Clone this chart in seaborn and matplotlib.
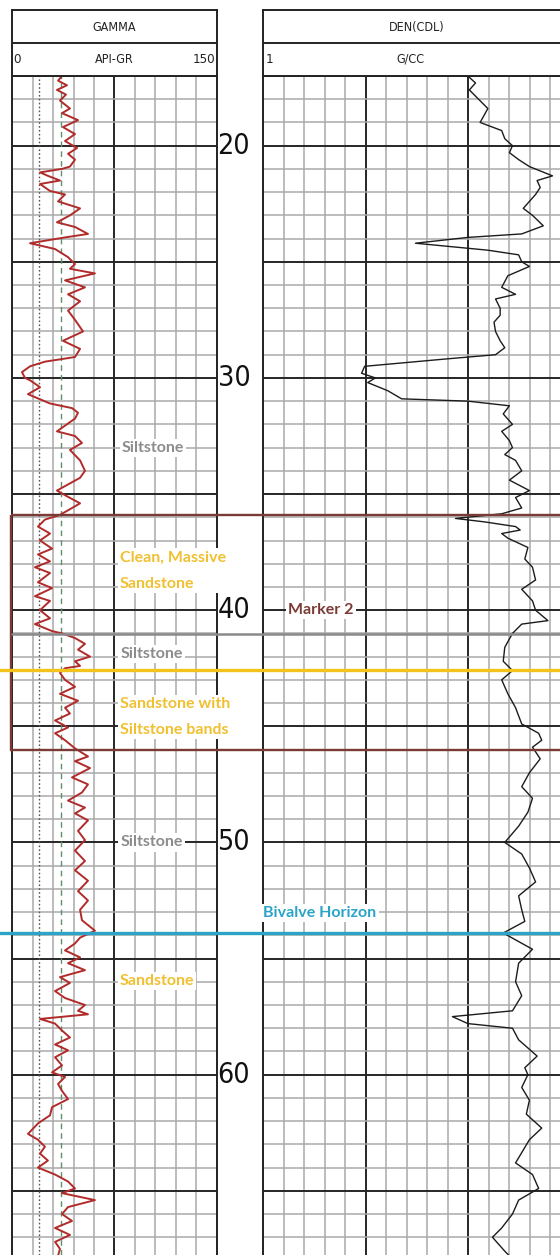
#Well log panel: gamma + density with zone markers
import numpy as np
import matplotlib
matplotlib.use("Agg")
import matplotlib.pyplot as plt
import matplotlib.transforms as mtransforms
from matplotlib.lines import Line2D
from matplotlib.patches import Rectangle
from matplotlib import font_manager
import seaborn as sns

#Gamma ray curve (depth, API)
gr_depth = [17.0, 17.2, 17.4, 17.6, 17.8, 18.06, 18.4, 18.6, 18.9, 19.2, 19.5, 19.8,
            20.1, 20.35, 20.6, 20.9, 21.0, 21.15, 21.3, 21.5, 21.65, 21.95, 22.1, 22.4,
            22.7, 23.0, 23.3, 23.5, 23.8, 23.95, 24.2, 24.45, 24.8, 25.1, 25.3, 25.5,
            25.8, 26.1, 26.4, 26.7, 27.1, 27.5, 28.0, 28.4, 28.75, 29.1, 29.3, 29.5,
            29.75, 30.0, 30.1, 30.4, 30.7, 31.1, 31.3, 31.5, 31.75, 32.3, 32.5, 32.8,
            33.1, 33.55, 34.0, 34.3, 34.85, 35.05, 35.4, 35.7, 35.9, 36.1, 36.4, 36.7,
            37.0, 37.35, 37.6, 37.9, 38.15, 38.4, 38.8, 39.05, 39.4, 39.6, 40.0, 40.35,
            40.6, 40.9, 41.0, 41.2, 41.45, 41.7, 42.0, 42.2, 42.4, 42.5, 42.7, 43.0,
            43.3, 43.6, 43.9, 44.2, 44.45, 44.75, 45.05, 45.3, 45.6, 45.95, 46.3, 46.5,
            46.8, 47.2, 47.5, 47.85, 48.2, 48.5, 48.75, 49.05, 49.5, 49.9, 50.35, 50.8,
            51.2, 51.65, 52.1, 52.5, 52.9, 53.35, 53.8, 54.1, 54.35, 54.65, 54.95, 55.2,
            55.5, 55.8, 56.05, 56.4, 56.7, 57.0, 57.25, 57.4, 57.6, 57.8, 58.1, 58.4,
            58.7, 58.95, 59.25, 59.6, 59.9, 60.1, 60.4, 60.7, 61.05, 61.4, 61.75, 62.1,
            62.55, 62.8, 63.1, 63.4, 63.7, 64.0, 64.3, 64.6, 64.9, 65.1, 65.4, 65.7,
            66.0, 66.3, 66.6, 66.9, 67.2, 67.5, 67.8]
gr_api = [36.6, 33.7, 40.2, 32.9, 39.5, 35.1, 42.4, 36.6, 48.3, 37.3, 46.1, 38.8,
          47.6, 41.0, 46.1, 42.4, 36.6, 20.5, 26.3, 35.1, 20.5, 27.8, 38.8, 33.7,
          49.8, 42.4, 32.9, 46.1, 55.6, 38.8, 13.2, 31.5, 41.0, 46.1, 42.4, 60.7,
          38.8, 53.4, 41.0, 49.8, 41.0, 46.1, 52.0, 37.3, 49.8, 46.1, 24.1, 13.2,
          7.3, 9.5, 13.2, 20.5, 11.7, 27.8, 43.9, 48.3, 46.1, 32.9, 46.1, 51.2,
          42.4, 49.8, 53.4, 49.8, 32.9, 38.8, 49.8, 41.0, 35.1, 24.1, 19.0, 27.8,
          20.5, 29.3, 19.0, 27.8, 16.8, 27.8, 19.0, 29.3, 16.8, 27.8, 20.5, 27.8,
          16.8, 29.3, 36.6, 46.1, 53.4, 48.3, 57.1, 46.1, 49.8, 38.8, 35.1, 38.8,
          46.1, 35.1, 48.3, 38.8, 42.4, 31.5, 41.0, 31.5, 38.8, 46.1, 55.6, 46.1,
          57.1, 43.9, 55.6, 51.2, 41.0, 53.4, 46.1, 55.6, 48.3, 53.4, 46.1, 53.4,
          46.1, 55.6, 48.3, 55.6, 49.8, 51.2, 60.7, 49.8, 46.1, 38.8, 49.8, 41.0,
          53.4, 35.1, 42.4, 31.5, 38.8, 53.4, 48.3, 55.6, 20.5, 31.5, 36.6, 42.4,
          31.5, 41.0, 31.5, 36.6, 29.3, 38.8, 33.7, 36.6, 41.0, 29.3, 27.8, 19.0,
          11.7, 19.0, 24.1, 20.5, 26.3, 19.0, 31.5, 41.0, 46.1, 36.6, 60.7, 41.0,
          36.6, 43.9, 31.5, 42.4, 31.5, 35.1, 33.7]

#Bulk density curve (depth, g/cc)
den_depth = [17.0, 17.3, 17.6, 18.0, 18.4, 19.0, 19.35, 19.7, 20.0, 20.3, 20.6, 20.9,
             21.3, 21.5, 21.8, 22.1, 22.4, 22.7, 23.0, 23.45, 23.8, 23.95, 24.2, 24.5,
             24.7, 25.0, 25.2, 25.6, 26.1, 26.4, 26.6, 27.0, 27.3, 27.6, 28.0, 28.4,
             28.7, 29.0, 29.2, 29.5, 29.8, 30.0, 30.2, 30.55, 30.9, 31.0, 31.2, 31.55,
             32.0, 32.3, 32.7, 33.0, 33.3, 33.55, 34.0, 34.4, 34.85, 35.15, 35.6, 35.85,
             36.05, 36.2, 36.4, 36.55, 36.7, 36.9, 37.3, 37.8, 38.15, 38.7, 39.1, 39.6,
             40.0, 40.45, 40.6, 41.0, 41.6, 42.2, 42.6, 43.0, 43.6, 44.2, 44.9, 45.3,
             45.6, 45.9, 46.4, 47.0, 47.6, 48.1, 48.7, 49.3, 50.0, 50.5, 51.1, 51.7,
             52.3, 52.9, 53.4, 53.9, 54.6, 55.2, 56.0, 56.6, 57.25, 57.5, 57.8, 58.0,
             58.5, 59.2, 59.7, 60.0, 60.55, 61.1, 61.7, 62.3, 62.8, 63.8, 64.3, 64.9,
             65.4, 66.0, 66.6, 67.0, 67.6, 67.8]
den_gcc = [2.33, 2.38, 2.34, 2.40, 2.46, 2.41, 2.55, 2.57, 2.62, 2.60, 2.66, 2.73,
           2.88, 2.78, 2.80, 2.77, 2.73, 2.69, 2.75, 2.82, 2.68, 2.33, 1.99, 2.46,
           2.66, 2.68, 2.73, 2.59, 2.55, 2.64, 2.51, 2.54, 2.54, 2.50, 2.51, 2.54,
           2.57, 2.51, 2.16, 1.66, 1.64, 1.73, 1.68, 1.81, 1.90, 2.33, 2.60, 2.56,
           2.62, 2.55, 2.60, 2.62, 2.57, 2.64, 2.68, 2.60, 2.73, 2.64, 2.68, 2.55,
           2.25, 2.44, 2.64, 2.67, 2.55, 2.59, 2.72, 2.70, 2.75, 2.77, 2.68, 2.75,
           2.77, 2.85, 2.68, 2.62, 2.57, 2.56, 2.62, 2.55, 2.59, 2.64, 2.68, 2.79,
           2.81, 2.75, 2.80, 2.73, 2.68, 2.75, 2.72, 2.66, 2.57, 2.68, 2.73, 2.77,
           2.66, 2.68, 2.70, 2.56, 2.75, 2.66, 2.64, 2.68, 2.62, 2.23, 2.33, 2.62,
           2.66, 2.78, 2.70, 2.72, 2.68, 2.73, 2.71, 2.81, 2.73, 2.64, 2.75, 2.79,
           2.66, 2.62, 2.55, 2.49, 2.57, 2.60]

depth_labels = [20, 30, 40, 50, 60]

#zone tops / horizons
marker2_top, marker2_base = 35.9, 46.0
silt_top = 41.03
sand_top = 42.56
bivalve_top = 53.92
gr_cut_clean = 20
gr_cut_sand = 36

sns.set_style("white")
fonts = font_manager.fontManager.ttflist
names = {f.name for f in fonts}
has_cond = any(f.name == "DejaVu Sans" and f.stretch == "condensed" for f in fonts)
plt.rcParams["font.family"] = ["Liberation Sans", "DejaVu Sans"]
if has_cond:
    num_font = dict(family="DejaVu Sans", fontstretch="condensed")
else:
    num_font = dict(family="Liberation Sans")
lab_family = "Lato" if "Lato" in names else "Liberation Sans"

W, H = 560, 1255
fig = plt.figure(figsize=(W / 100, H / 100), dpi=100)

def fx(px):
    return px / W

def fy(py):
    return 1 - py / H

grid_top = 76
top_d = 17.0
bot_d = top_d + (H - grid_top) / 23.225

ax1 = fig.add_axes([fx(12), 0, fx(205), (H - grid_top) / H])
ax2 = fig.add_axes([fx(263), 0, fx(308), (H - grid_top) / H])

#curves
ax1.axvline(gr_cut_clean, color="#555555", ls=(0, (1.2, 1.6)), lw=1.0, zorder=1.5)
ax1.axvline(gr_cut_sand, color="#5f8f6c", ls=(0, (4, 3)), lw=1.0, zorder=1.5)
sns.lineplot(x=gr_api, y=gr_depth, sort=False, estimator=None, color="#b22b2b",
             lw=1.4, ax=ax1)
sns.lineplot(x=den_gcc, y=den_depth, sort=False, estimator=None, color="#1c1c1c",
             lw=1.0, ax=ax2)

#grids
for ax, minor_x, major_x, xlim in [
        (ax1, np.arange(0, 151, 15), [75], (0, 150)),
        (ax2, np.linspace(1, 3, 16), np.linspace(1, 3, 4)[1:3], (1, 3))]:
    ax.set_xlim(*xlim)
    ax.set_ylim(bot_d, top_d)
    ax.set_xticks(minor_x, minor=True)
    ax.set_xticks(major_x)
    ax.set_yticks(np.arange(18, 68, 1), minor=True)
    ax.set_yticks(np.arange(20, 68, 5))
    ax.grid(which="minor", color="#aaaaaa", lw=1.1)
    ax.grid(which="major", color="#262626", lw=1.4)
    ax.set_axisbelow(True)
    ax.tick_params(which="both", length=0, labelbottom=False, labelleft=False)
    for s in ["left", "right", "top"]:
        ax.spines[s].set_color("#222222")
        ax.spines[s].set_linewidth(1.4)
    ax.spines["bottom"].set_visible(False)
    ax.set_xlabel("")
    ax.set_ylabel("")

#headers (right scale end falls outside the picture)
for left, width, title, unit, lo, hi in [(12, 205, "GAMMA", "API-GR", "0", "150"),
                                         (263, 308, "DEN(CDL)", "G/CC", "1", None)]:
    h = fig.add_axes([fx(left), fy(grid_top), fx(width), (grid_top - 10) / H])
    h.set_xlim(0, 1); h.set_ylim(0, 1)
    h.set_xticks([]); h.set_yticks([])
    for s in h.spines.values():
        s.set_color("#222222"); s.set_linewidth(1.4)
    h.axhline(0.5, color="#222222", lw=1.4)
    cx = 0.5 if left == 12 else 0.48
    h.text(0.5, 0.74, title, ha="center", va="center", fontsize=9, color="#222222", **num_font)
    h.text(cx, 0.25, unit, ha="center", va="center", fontsize=9, color="#222222", **num_font)
    h.text(0.008, 0.25, lo, ha="left", va="center", fontsize=9.5, color="#222222", **num_font)
    if hi:
        h.text(0.992, 0.25, hi, ha="right", va="center", fontsize=9.5, color="#222222", **num_font)

#depth numbers between tracks
trans = mtransforms.blended_transform_factory(fig.transFigure, ax1.transData)
for d in depth_labels:
    ax1.text(fx(217.5), d, str(d), transform=trans, ha="left", va="center",
             fontsize=20.5, color="#111111", clip_on=False, **num_font)

#zone lines
fig.add_artist(Rectangle((fx(11), marker2_top), 1.0, marker2_base - marker2_top,
                         transform=trans, fill=False, ec="#7b3a35", lw=1.7, zorder=3))
fig.add_artist(Line2D([fx(12), 1], [silt_top, silt_top], transform=trans,
                      color="#8a8a8a", lw=1.8, zorder=3))
fig.add_artist(Line2D([0, 1], [sand_top, sand_top], transform=trans,
                      color="#f2c31a", lw=2.4, zorder=3))
fig.add_artist(Line2D([0, 1], [bivalve_top, bivalve_top], transform=trans,
                      color="#2ba4c8", lw=2.4, zorder=3))

#lithology labels
box = dict(fc="white", ec="none", pad=1.5)
lab = dict(family=lab_family, fontsize=11.5, fontweight="bold", va="center", bbox=box,
           zorder=5, clip_on=False)
gray, gold, brown, cyan = "#8c8c8c", "#f0c030", "#7b3a35", "#2aa3c8"
ax1.text(103, 33.0, "Siltstone", ha="center", color=gray, **lab)
ax1.text(79, 38.3, "Clean, Massive\nSandstone", ha="left", color=gold, linespacing=2.15, **lab)
ax1.text(102, 41.9, "Siltstone", ha="center", color=gray, **lab)
ax1.text(79, 44.6, "Sandstone with\nSiltstone bands", ha="left", color=gold, linespacing=2.15, **lab)
ax1.text(102, 50.0, "Siltstone", ha="center", color=gray, **lab)
ax1.text(106, 55.95, "Sandstone", ha="center", color=gold, **lab)
ax2.text(1.377, 40.0, "Marker 2", ha="center", color=brown, **lab)
ax2.text(1.37, 53.05, "Bivalve Horizon", ha="center", color=cyan, **lab)

fig.savefig("out.png", dpi=100)
